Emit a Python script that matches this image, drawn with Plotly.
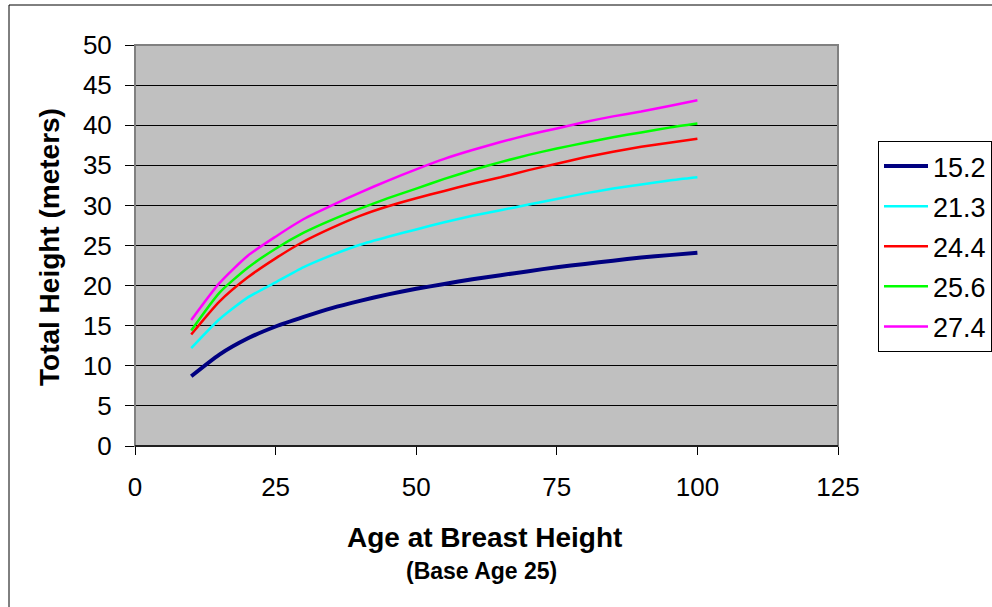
import plotly.graph_objects as go

ages = [10, 15, 20, 25, 30, 35, 40, 45, 50, 55, 60, 65, 70, 75, 80, 85, 90, 95, 100]
si_15_2 = [8.7, 11.4, 13.4, 14.9, 16.1, 17.2, 18.1, 18.9, 19.6, 20.2, 20.8, 21.3, 21.8, 22.3, 22.7, 23.1, 23.5, 23.8, 24.1]
si_21_3 = [12.2, 15.8, 18.5, 20.4, 22.3, 23.8, 25.1, 26.1, 27.0, 27.9, 28.7, 29.4, 30.1, 30.8, 31.5, 32.1, 32.6, 33.1, 33.5]
si_24_4 = [13.9, 18.0, 21.0, 23.4, 25.5, 27.2, 28.7, 29.9, 30.9, 31.8, 32.7, 33.5, 34.4, 35.2, 36.0, 36.7, 37.3, 37.8, 38.3]
si_25_6 = [14.4, 19.1, 22.2, 24.6, 26.6, 28.2, 29.6, 30.9, 32.1, 33.3, 34.4, 35.4, 36.3, 37.1, 37.8, 38.5, 39.1, 39.7, 40.2]
si_27_4 = [15.7, 20.3, 23.7, 26.1, 28.3, 30.0, 31.6, 33.1, 34.5, 35.8, 36.9, 37.9, 38.8, 39.6, 40.4, 41.1, 41.7, 42.4, 43.1]

series_names = ["15.2", "21.3", "24.4", "25.6", "27.4"]
series_values = [si_15_2, si_21_3, si_24_4, si_25_6, si_27_4]
series_colors = ["#000080", "#00FFFF", "#FF0000", "#00FF00", "#FF00FF"]
series_widths = [4, 2.5, 2.5, 2.5, 2.5]

x_ticks = [0, 25, 50, 75, 100, 125]
y_ticks = [0, 5, 10, 15, 20, 25, 30, 35, 40, 45, 50]

FONT = "Liberation Sans, Arial, sans-serif"

fig = go.Figure()
for i, (name, vals, col, w) in enumerate(zip(series_names, series_values, series_colors, series_widths)):
    fig.add_trace(go.Scatter(
        x=ages, y=vals, mode="lines", name=name,
        line=dict(color=col, width=w, shape="spline", smoothing=0.6),
        legendgroup="g%d" % i,
    ))

L, R, T, B = 135, 154, 45, 161
W, H = 992, 607
pw, ph = W - L - R, H - T - B

fig.update_layout(
    width=W, height=H,
    margin=dict(l=L, r=R, t=T, b=B, pad=0, autoexpand=False),
    paper_bgcolor="white",
    plot_bgcolor="#C0C0C0",
    font=dict(family=FONT, size=26, color="black"),
    showlegend=True,
    legend=dict(
        x=(878 - L) / pw, y=(H - B - 141) / ph, xanchor="left", yanchor="top",
        bgcolor="white", bordercolor="black", borderwidth=1,
        font=dict(family=FONT, size=27, color="black"),
        tracegroupgap=2, itemwidth=44,
    ),
    xaxis=dict(
        range=[0, 125], tickvals=x_ticks, ticktext=[str(v) for v in x_ticks],
        ticks="outside", ticklen=8, tickcolor="black", tickwidth=1,
        showgrid=False, zeroline=False, showline=False,
        tickfont=dict(family=FONT, size=26), ticklabelstandoff=10,
    ),
    yaxis=dict(
        range=[0, 50], tickvals=y_ticks, ticktext=[str(v) for v in y_ticks],
        ticks="outside", ticklen=9, tickcolor="black", tickwidth=1,
        showgrid=True, gridcolor="black", gridwidth=1.2,
        zeroline=False, showline=False,
        tickfont=dict(family=FONT, size=26), ticklabelstandoff=8,
    ),
    shapes=[
        dict(type="rect", xref="paper", yref="paper", x0=0, y0=0, x1=1, y1=1,
             line=dict(color="#808080", width=2), layer="above"),
        dict(type="line", xref="paper", yref="paper", x0=0, y0=0, x1=1, y1=0,
             line=dict(color="black", width=1.5), layer="above"),
        dict(type="rect", xref="paper", yref="paper",
             x0=(9 - L) / pw, y0=-1.0, x1=1.4, y1=(H - B - 5) / ph,
             line=dict(color="black", width=1), layer="below"),
    ],
    annotations=[
        dict(text="<b>Age at Breast Height</b>", xref="paper", yref="paper",
             x=(484 - L) / pw, y=(H - B - 537) / ph, xanchor="center", yanchor="middle",
             showarrow=False, font=dict(family=FONT, size=28)),
        dict(text="<b>(Base Age 25)</b>", xref="paper", yref="paper",
             x=(481 - L) / pw, y=(H - B - 571) / ph, xanchor="center", yanchor="middle",
             showarrow=False, font=dict(family=FONT, size=23)),
        dict(text="<b>Total Height (meters)</b>", xref="paper", yref="paper",
             x=(50 - L) / pw, y=(H - B - 247) / ph, xanchor="center", yanchor="middle",
             textangle=-90, showarrow=False, font=dict(family=FONT, size=28)),
    ],
)

fig.write_html("out.html")
